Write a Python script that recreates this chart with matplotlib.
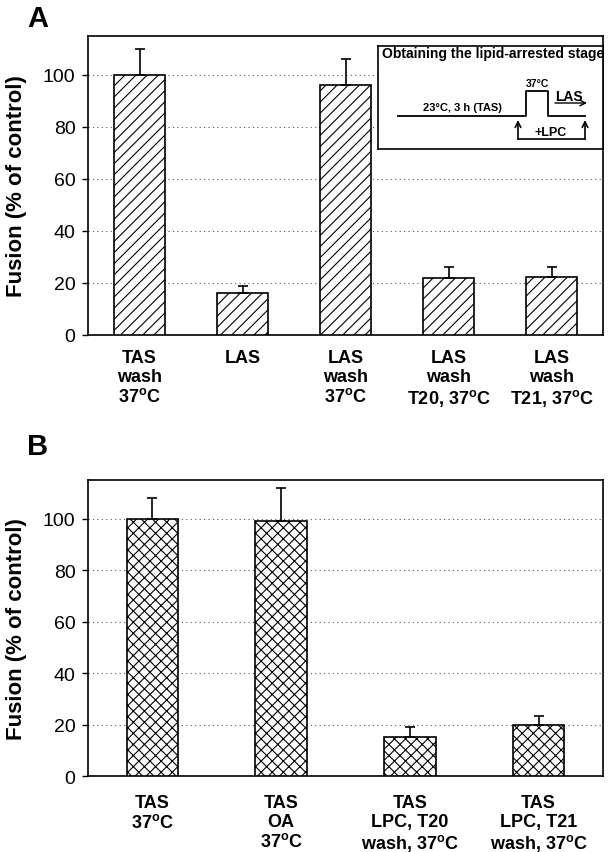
import matplotlib
matplotlib.use("Agg")
import matplotlib.pyplot as plt
import numpy as np

plt.rcParams['font.family'] = ['Liberation Sans', 'DejaVu Sans']
plt.rcParams['mathtext.fontset'] = 'custom'
plt.rcParams['mathtext.rm'] = 'Liberation Sans'
plt.rcParams['mathtext.bf'] = 'Liberation Sans:bold'
plt.rcParams['hatch.linewidth'] = 0.8

DEG = r'$^\mathbf{o}$'

# panel A
labels_a = ['TAS\nwash\n37' + DEG + 'C', 'LAS', 'LAS\nwash\n37' + DEG + 'C',
            'LAS\nwash\nT20, 37' + DEG + 'C', 'LAS\nwash\nT21, 37' + DEG + 'C']
fusion_a = [100, 16, 96, 22, 22.5]
err_a = [10, 3, 10, 4, 3.5]

# panel B
labels_b = ['TAS\n37' + DEG + 'C', 'TAS\nOA\n37' + DEG + 'C',
            'TAS\nLPC, T20\nwash, 37' + DEG + 'C', 'TAS\nLPC, T21\nwash, 37' + DEG + 'C']
fusion_b = [100, 99, 15, 20]
err_b = [8, 13, 4, 3.5]

yticks = [0, 20, 40, 60, 80, 100]

W, H = 609, 853
fig = plt.figure(figsize=(W / 100, H / 100), dpi=100)


def rect(x0, y0, x1, y1):
    # pixel box -> figure fraction
    return [x0 / W, 1 - y1 / H, (x1 - x0) / W, (y1 - y0) / H]


def panel(ax, labels, vals, errs, hatch, width, pad):
    x = np.arange(len(vals))
    ax.bar(x, vals, width, color='white', edgecolor='black', hatch=hatch,
           linewidth=1.2, zorder=3)
    ax.errorbar(x, vals, yerr=[np.zeros(len(errs)), errs], fmt='none',
                ecolor='black', elinewidth=1.2, capsize=3.8, capthick=1.2, zorder=4)
    ax.set_xlim(-0.5, len(vals) - 0.5)
    ax.set_ylim(0, 115)
    ax.set_yticks(yticks)
    ax.set_xticks(x)
    ax.set_xticklabels(labels, fontweight='bold', fontsize=13, linespacing=1.15)
    ax.tick_params(axis='x', length=0, pad=pad)
    ax.tick_params(axis='y', labelsize=14, length=4, width=1, pad=5)
    ax.yaxis.grid(True, linestyle=(0, (1, 3)), color='0.35', linewidth=0.8)
    ax.set_axisbelow(True)
    for s in ax.spines.values():
        s.set_linewidth(1.2)
    ax.set_ylabel('Fusion (% of control)', fontsize=16, fontweight='bold')
    ax.yaxis.set_label_coords(-0.118, 0.5)


axA = fig.add_axes(rect(88, 37, 603, 336))
panel(axA, labels_a, fusion_a, err_a, '///', 0.5, 10)
axB = fig.add_axes(rect(88, 481, 603, 777))
panel(axB, labels_b, fusion_b, err_b, 'xxx', 0.4, 13)

fig.text(27 / W, 1 - 27 / H, 'A', fontsize=21, fontweight='bold')
fig.text(27 / W, 1 - 455 / H, 'B', fontsize=21, fontweight='bold')

# inset diagram (pixel coordinates inside the box)
ins = fig.add_axes(rect(378, 47, 603, 150))
ins.set_xlim(378, 603)
ins.set_ylim(150, 47)
ins.set_xticks([])
ins.set_yticks([])
for s in ins.spines.values():
    s.set_linewidth(1.2)
ins.text(382, 58, 'Obtaining the lipid-arrested stage', fontsize=10,
         fontweight='bold', va='baseline', ha='left', clip_on=False)
ins.plot([398, 526, 526, 548, 548, 585], [117, 117, 92, 92, 117, 117],
         color='black', lw=1.3)
ins.plot([518, 585], [140, 140], color='black', lw=1.2)
for xa in (518, 585):
    ins.annotate('', xy=(xa, 121), xytext=(xa, 140),
                 arrowprops=dict(arrowstyle='->', lw=1.2, color='black',
                                 shrinkA=0, shrinkB=0))
ins.annotate('', xy=(587, 104), xytext=(555, 104),
             arrowprops=dict(arrowstyle='->', lw=1.0, color='black',
                             shrinkA=0, shrinkB=0))
ins.text(537, 84, '37°C', fontsize=7.5, fontweight='bold', ha='center', va='center')
ins.text(569, 97, 'LAS', fontsize=10, fontweight='bold', ha='center', va='center')
ins.text(462, 108, '23°C, 3 h (TAS)', fontsize=8, fontweight='bold',
         ha='center', va='center')
ins.text(551, 133, '+LPC', fontsize=9, fontweight='bold', ha='center', va='center')

plt.savefig('out.png', dpi=100)
